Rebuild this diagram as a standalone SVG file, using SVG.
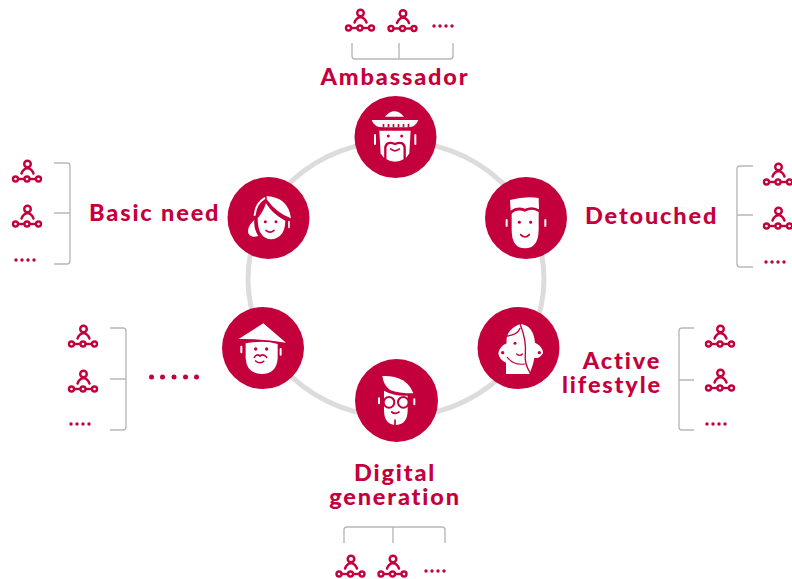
<svg xmlns="http://www.w3.org/2000/svg" width="792" height="579" viewBox="0 0 792 579">
<style>
.d{fill:#c4003c}
.w{fill:#fff}
.c{fill:none;stroke:#c4003c;stroke-linecap:round}
.wl{fill:none;stroke:#fff;stroke-linecap:round}
.b{fill:none;stroke:#b8b8b8;stroke-width:1.4}
.ring{fill:none;stroke:#dcdcdc;stroke-width:5}
.t{font-family:"Lato","Liberation Sans",sans-serif;font-weight:900;font-size:23.5px;letter-spacing:1.85px;fill:#c4003c}
.m{text-anchor:middle}
</style>
<defs>
<g id="p">
<circle cx="0.5" cy="-15" r="3.3" fill="none" stroke="#c4003c" stroke-width="2.4"/>
<path d="M-5.5,-5.5 Q-4,-10 0.5,-11 Q5,-10 6.5,-5.5" fill="none" stroke="#c4003c" stroke-width="2.4" stroke-linecap="round"/>
<path d="M-9,0 H11" stroke="#c4003c" stroke-width="2.4"/>
<g fill="#fff" stroke="#c4003c" stroke-width="2.4"><circle cx="-11.500" cy="0" r="2.500"/><circle cx="0" cy="0" r="2.500"/><circle cx="11.500" cy="0" r="2.500"/></g>
</g>
<g id="dots" fill="#c4003c"><circle cx="1" cy="0" r="1.700"/><circle cx="7" cy="0" r="1.700"/><circle cx="13" cy="0" r="1.700"/><circle cx="19" cy="0" r="1.700"/></g>
</defs>
<rect width="792" height="579" fill="#fff"/>
<g id="connectors">
<ellipse class="ring" cx="396" cy="279" rx="148" ry="138"/>
<path class="b" d="M352,43 V56 Q352,59 355,59 H450 Q453,59 453,56 V43 M399,43 V59"/>
<path class="b" d="M54,163 H67 Q70,163 70,166 V261 Q70,264 67,264 H54 M54,213 H70"/>
<path class="b" d="M753,166 H740 Q737,166 737,169 V264 Q737,267 740,267 H753 M737,215 H753"/>
<path class="b" d="M694,328 H682 Q679,328 679,331 V427 Q679,430 682,430 H694 M679,380 H694"/>
<path class="b" d="M110,328 H123 Q126,328 126,331 V427 Q126,430 123,430 H110 M110,379 H126"/>
<path class="b" d="M344,543 V530 Q344,527 347,527 H442 Q445,527 445,530 V543 M393,527 V543"/>
</g>
<g id="ambassador">
<circle class="d" cx="395.500" cy="137" r="41"/>
<g transform="translate(340,0) scale(.3333)">
<path class="w" d="M135,350 Q163,318 192,350 Z"/>
<path class="w" d="M95,360 H235 Q228,382 200,382 H130 Q102,382 95,360 Z"/>
<path class="d" d="M128,372h5v10h-5zM143,372h5v10h-5zM158,372h5v10h-5zM173,372h5v10h-5zM188,372h5v10h-5zM203,372h5v10h-5z"/>
<path class="w" d="M118,392 H212 L208,460 Q195,485 165,485 Q135,485 122,460 Z"/>
<path class="wl" stroke-width="6" d="M105,405 V432 M226,405 V432"/>
<path class="c" stroke-width="7" d="M136,482 V442 Q140,422 165,432 Q190,422 194,442 V482"/>
<circle class="d" cx="145" cy="408" r="4.500"/><circle class="d" cx="185" cy="408" r="4.500"/>
<path class="c" stroke-width="5" d="M152,447 Q165,458 178,447"/>
</g>
<text class="t m" x="395" y="85">Ambassador</text>
<use href="#p" x="360" y="28"/><use href="#p" x="402.500" y="28.500"/><use href="#dots" x="433" y="26"/>
</g>
<g id="basic-need">
<circle class="d" cx="268.500" cy="218" r="41"/>
<g transform="translate(220,170) scale(.3333)">
<path class="w" d="M140,78 Q205,82 213,145 Q170,130 140,88 Z"/>
<path class="wl" stroke-width="6" d="M104,135 Q108,100 133,85"/>
<path class="w" d="M113,145 Q130,125 138,100 Q160,135 196,152 Q195,205 152,208 Q113,205 113,145 Z"/>
<path class="w" d="M103,150 Q80,170 85,190 Q92,205 115,198 Q100,175 103,150 Z"/>
<path class="wl" stroke-width="5" d="M207,155 V172"/>
<circle class="d" cx="136" cy="155" r="4.500"/><circle class="d" cx="168" cy="155" r="4.500"/>
<path class="c" stroke-width="5" d="M138,181 Q150,192 162,181"/>
</g>
<text class="t" x="89" y="221">Basic need</text>
<use href="#p" x="27" y="179"/><use href="#p" x="27" y="224"/><use href="#dots" x="15" y="260"/>
</g>
<g id="detouched">
<circle class="d" cx="526" cy="218" r="41"/>
<g transform="translate(475,170) scale(.3333)">
<path class="w" d="M105,90 Q150,78 191,84 L192,118 Q170,106 150,116 Q125,106 107,122 Z"/>
<path class="w" d="M110,131 Q125,116 150,125 Q170,113 191,126 V180 Q190,235 150,235 Q110,235 110,180 Z"/>
<path class="wl" stroke-width="6" d="M95,150 V168 M211,150 V168"/>
<circle class="d" cx="133" cy="157" r="4.500"/><circle class="d" cx="167" cy="157" r="4.500"/>
<path class="c" stroke-width="5" d="M137,194 Q150,208 163,194"/>
</g>
<text class="t" x="585" y="224">Detouched</text>
<use href="#p" x="778" y="182"/><use href="#p" x="778" y="226"/><use href="#dots" x="765" y="262"/>
</g>
<g id="active-lifestyle">
<circle class="d" cx="518.500" cy="348" r="41"/>
<g transform="translate(470,300) scale(.3333)">
<path class="w" d="M150,72 Q190,75 195,128 Q220,140 219,160 Q208,178 193,173 Q190,195 178,222 H108 V188 Q88,180 85,160 Q88,140 110,130 Q105,90 150,72 Z"/>
<path class="c" stroke-width="4" d="M150,72 Q170,120 166,165 Q163,190 180,218"/>
<path class="c" stroke-width="4" d="M112,108 Q142,105 150,85"/>
<path class="c" stroke-width="3.500" d="M112,172 Q130,197 164,192"/>
<circle class="d" cx="135" cy="130" r="4.500"/>
<circle class="d" cx="98" cy="158" r="5"/><circle class="d" cx="208" cy="158" r="5"/>
<path class="c" stroke-width="4" d="M140,162 Q150,170 157,162"/>
</g>
<text class="t m" x="622" y="369">Active</text>
<text class="t m" x="612" y="393">lifestyle</text>
<use href="#p" x="720" y="344"/><use href="#p" x="720" y="388"/><use href="#dots" x="706" y="424"/>
</g>
<g id="digital-generation">
<circle class="d" cx="396.500" cy="400.500" r="41.500"/>
<g transform="translate(345,350) scale(.3333)">
<path class="w" d="M112,78 Q185,76 205,130 Q160,130 135,120 Q115,105 112,78 Z"/>
<path class="w" d="M117,122 Q150,140 188,137 V180 Q188,225 150,225 Q117,222 117,180 Z"/>
<path class="wl" stroke-width="6" d="M102,145 V160 M208,148 V163"/>
<circle cx="132" cy="157" r="16" fill="#fff" stroke="#c4003c" stroke-width="6"/>
<circle cx="175" cy="157" r="16" fill="#fff" stroke="#c4003c" stroke-width="6"/>
<path class="c" stroke-width="5" d="M140,186 Q150,194 162,186 M150,210 V224"/>
</g>
<text class="t m" x="395" y="481">Digital</text>
<text class="t m" x="395" y="505">generation</text>
<use href="#p" x="350.500" y="574"/><use href="#p" x="392.500" y="574"/><use href="#dots" x="425" y="571"/>
</g>
<g id="unnamed">
<circle class="d" cx="263" cy="348" r="41"/>
<g transform="translate(215,300) scale(.3333)">
<path class="w" d="M145,70 L213,128 Q145,116 71,117 Z"/>
<path class="w" d="M92,130 Q150,120 188,132 V175 Q185,222 140,222 Q95,222 92,175 Z"/>
<path class="wl" stroke-width="6" d="M79,140 V157 M197,147 V164"/>
<circle class="d" cx="122" cy="147" r="5"/><circle class="d" cx="155" cy="147" r="5"/>
<path class="c" stroke-width="5" d="M118,172 Q125,160 135,168 Q145,160 155,172"/>
<path class="c" stroke-width="5" d="M122,183 Q133,193 146,184"/>
</g>
<use href="#p" x="83" y="344"/><use href="#p" x="83" y="389"/><use href="#dots" x="70" y="424"/>
<g fill="#c4003c"><circle cx="151.500" cy="377" r="2.500"/><circle cx="162.500" cy="377" r="2.500"/><circle cx="174" cy="377" r="2.500"/><circle cx="185.500" cy="377" r="2.500"/><circle cx="196.500" cy="377" r="2.500"/></g>
</g>
</svg>
